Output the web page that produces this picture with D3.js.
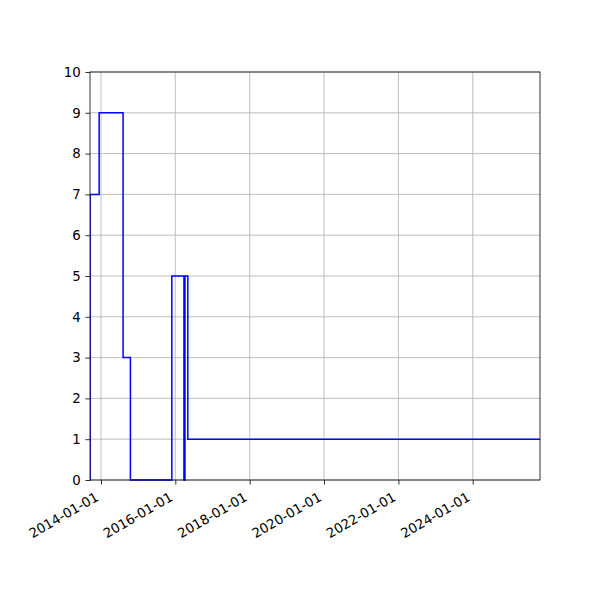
<!DOCTYPE html>
<html>
<head>
<meta charset="utf-8">
<script src="https://cdn.jsdelivr.net/npm/d3@7"></script>
<style>
  body { margin: 0; background: #fff; }
  svg text { font-family: "DejaVu Sans", sans-serif; font-size: 13.33px; fill: #000; }
</style>
</head>
<body>
<div id="chart"></div>
<script>
// step series (value holds until the next date)
const dates = ['2013-09-15', '2013-09-16', '2013-12-14', '2014-08-06', '2014-10-17',
  '2015-11-28', '2016-03-26', '2016-04-05', '2016-05-03', '2025-10-23'];
const values = [0, 7, 9, 3, 0, 5, 0, 5, 1, 1];
const xTickLabels = ['2014-01-01', '2016-01-01', '2018-01-01', '2020-01-01', '2022-01-01', '2024-01-01'];
const yTicks = [0, 1, 2, 3, 4, 5, 6, 7, 8, 9, 10];

const W = 600, H = 600;
const mLeft = 90, mRight = 540, mTop = 72, mBottom = 480;

const parse = d3.utcParse('%Y-%m-%d');
const data = dates.map((d, i) => ({ date: parse(d), value: values[i] }));

const svg = d3.select('#chart').append('svg')
  .attr('width', W).attr('height', H);

const x = d3.scaleUtc()
  .domain(d3.extent(data, (d) => d.date))
  .range([mLeft, mRight]);
const y = d3.scaleLinear().domain([0, 10]).range([mBottom, mTop]);

const xTicks = xTickLabels.map(parse);

// grid
const grid = svg.append('g').attr('stroke', '#b0b0b0').attr('stroke-width', 0.8);
grid.selectAll('.vx').data(xTicks).enter().append('line')
  .attr('x1', (d) => x(d)).attr('x2', (d) => x(d))
  .attr('y1', mTop).attr('y2', mBottom);
grid.selectAll('.hy').data(yTicks).enter().append('line')
  .attr('x1', mLeft).attr('x2', mRight)
  .attr('y1', (d) => y(d)).attr('y2', (d) => y(d));

// line
const line = d3.line()
  .x((d) => x(d.date))
  .y((d) => y(d.value))
  .curve(d3.curveStepAfter);

svg.append('defs').append('clipPath').attr('id', 'clip')
  .append('rect').attr('x', mLeft).attr('y', mTop - 2)
  .attr('width', mRight - mLeft).attr('height', mBottom - mTop + 4);

svg.append('path')
  .datum(data)
  .attr('clip-path', 'url(#clip)')
  .attr('fill', 'none')
  .attr('stroke', '#0000ff')
  .attr('stroke-width', 1.5)
  .attr('d', line);

// frame
svg.append('rect')
  .attr('x', mLeft).attr('y', mTop)
  .attr('width', mRight - mLeft).attr('height', mBottom - mTop)
  .attr('fill', 'none').attr('stroke', '#000').attr('stroke-width', 0.8);

// y axis
const yAxis = svg.append('g').attr('transform', `translate(${mLeft},0)`)
  .call(d3.axisLeft(y).tickValues(yTicks).tickFormat(d3.format('d'))
    .tickSizeInner(4.67).tickSizeOuter(0).tickPadding(4.67));
yAxis.select('.domain').remove();
yAxis.selectAll('line').attr('stroke', '#000').attr('stroke-width', 0.8);
yAxis.selectAll('text').attr('font-size', 13.33).attr('font-family', '"DejaVu Sans", sans-serif');

// x axis
const xAxis = svg.append('g').attr('transform', `translate(0,${mBottom})`)
  .call(d3.axisBottom(x).tickValues(xTicks).tickFormat(d3.utcFormat('%Y-%m-%d'))
    .tickSizeInner(4.67).tickSizeOuter(0));
xAxis.select('.domain').remove();
xAxis.selectAll('line').attr('stroke', '#000').attr('stroke-width', 0.8);
xAxis.selectAll('text')
  .attr('font-size', 13.33).attr('font-family', '"DejaVu Sans", sans-serif')
  .attr('text-anchor', 'end')
  .attr('y', 0).attr('dy', '0.75em')
  .attr('transform', 'translate(-7,11) rotate(-30)');
</script>
</body>
</html>
